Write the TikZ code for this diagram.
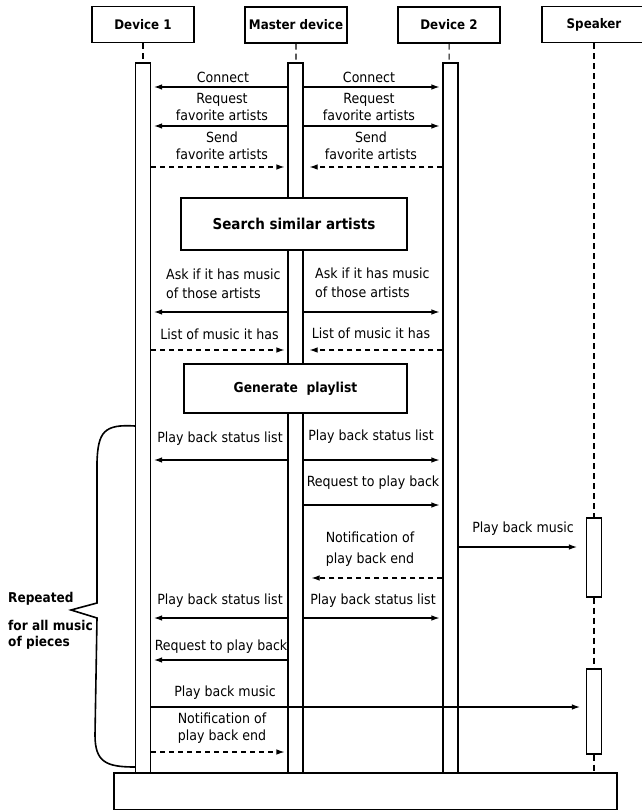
\documentclass[tikz,border=0pt]{standalone}
\usepackage{fontspec}
\setmainfont{DejaVu Sans}[FakeStretch = 0.9]
\usetikzlibrary{arrows.meta, positioning}
\tikzset{> = { Latex[length = 8pt, width = 5.5pt] }}

\begin{document}
\begin{tikzpicture}[x = 1pt, y = -1pt,
		head/.style = {draw, line width = 1.3pt, minimum width = 102pt, minimum height = 36pt, inner sep = 0pt, font = \bfseries\fontsize{13.2}{16}\selectfont},
		bar/.style = {draw, line width = 1.1pt, fill = white, minimum width = 15pt, inner sep = 0pt},
		task/.style = {draw, fill = white, line width = 1.8pt, inner sep = 0pt},
		msg/.style = {font = \fontsize{14}{17}\selectfont, align = center, inner sep = 0pt},
		note/.style = {font = \bfseries\fontsize{13.5}{16}\selectfont, inner sep = 0pt, anchor = west},
		life/.style = {line width = 1.1pt, dash pattern = on 6pt off 4pt},
		call/.style = {->, line width = 1.1pt, shorten > = 3pt},
		reply/.style = {call, dash pattern = on 5pt off 4pt}]
		\useasboundingbox (0, 0) rectangle (641, 810);

		% participants
		\node [head] (dev1) at (143, 24.5) {Device 1};
		\node [head] (master) at (296, 25) {Master device};
		\node [head] (dev2) at (449, 25) {Device 2};
		\node [head, minimum width = 104pt] (spk) at (594, 24.5) {Speaker};

		\node [bar, minimum height = 710pt] (bar1) at (143, 418) {};
		\node [bar, minimum height = 710pt] (bar2) at (295.5, 418) {};
		\node [bar, minimum height = 710pt] (bar3) at (450.5, 418) {};
		\node [bar, minimum height = 79pt] (act1) at (594, 557.5) {};
		\node [bar, minimum height = 85pt] (act2) at (594, 711.5) {};
		\node [task, fill = none, minimum width = 503pt, minimum height = 37pt] (base) at (365.5, 791.5) {};

		\draw [life] (dev1) -- (bar1);
		\draw [life] (master) -- (bar2);
		\draw [life] (dev2) -- (bar3);
		\draw [life] (spk) -- (act1);
		\draw [life] (act1) -- (act2);
		\draw [life] (act2) -- (act2 |- base.north);

		% work of the master device
		\node [task, minimum width = 226pt, minimum height = 52pt, font = \bfseries\fontsize{15}{18}\selectfont] (search) at (294, 224) {Search similar artists};
		\node [task, minimum width = 223pt, minimum height = 49pt, font = \bfseries\fontsize{13.7}{16}\selectfont] (playlist) at (295.5, 388.5) {Generate\ \ playlist};

		% message rows
		\coordinate (yconn) at (0, 87);
		\coordinate (yreq) at (0, 126);
		\coordinate (ysend) at (0, 167);
		\coordinate (yask) at (0, 312);
		\coordinate (ylist) at (0, 350);
		\coordinate (ystat) at (0, 460);
		\coordinate (yplay) at (0, 505);
		\coordinate (ymusic) at (0, 547);
		\coordinate (ydone) at (0, 578);
		\coordinate (ystatb) at (0, 618);
		\coordinate (yplayb) at (0, 660);
		\coordinate (ymusicb) at (0, 707);
		\coordinate (ydoneb) at (0, 752);

		\draw [call] (bar2.west |- yconn) -- (bar1.east |- yconn);
		\draw [call] (bar2.east |- yconn) -- (bar3.west |- yconn);
		\node [msg] (lconn1) at (223, 77) {Connect};
		\node [msg] (lconn2) at (369, 77) {Connect};

		\draw [call] (bar2.west |- yreq) -- (bar1.east |- yreq);
		\draw [call] (bar2.east |- yreq) -- (bar3.west |- yreq);
		\node [msg] (lreq1) at (222, 107) {Request\\favorite artists};
		\node [msg] (lreq2) at (369, 107) {Request\\favorite artists};

		\draw [reply] (bar1.east |- ysend) -- (bar2.west |- ysend);
		\draw [reply, shorten > = 6pt] (bar3.west |- ysend) -- (bar2.east |- ysend);
		\node [msg] (lsend1) at (222, 146) {Send\\favorite artists};
		\node [msg] (lsend2) at (371, 146) {Send\\favorite artists};

		\draw [call] (bar2.west |- yask) -- (bar1.east |- yask);
		\draw [call] (bar2.east |- yask) -- (bar3.west |- yask);
		\node [msg, align = left, anchor = west] (lask1) at (166, 283.5) {Ask if it has music\\[2pt]of those artists};
		\node [msg, align = left, anchor = west] (lask2) at (315, 282.5) {Ask if it has music\\[2pt]of those artists};

		\draw [reply] (bar1.east |- ylist) -- (bar2.west |- ylist);
		\draw [reply, shorten > = 6pt] (bar3.west |- ylist) -- (bar2.east |- ylist);
		\node [msg] (llist1) at (219.5, 334) {List of music it has};
		\node [msg] (llist2) at (371, 333) {List of music it has};

		\draw [call] (bar2.west |- ystat) -- (bar1.east |- ystat);
		\draw [call] (bar2.east |- ystat) -- (bar3.west |- ystat);
		\node [msg] (lstat1) at (220, 439) {Play back status list};
		\node [msg] (lstat2) at (371, 437) {Play back status list};

		\draw [call] (bar2.east |- yplay) -- (bar3.west |- yplay);
		\node [msg] (lplay1) at (373, 483) {Request to play back};

		\draw [call, shorten > = 9pt] (bar3.east |- ymusic) -- (act1.west |- ymusic);
		\node [msg] (lmusic1) at (523, 529) {Play back music};

		\draw [reply, shorten > = 8pt] (bar3.west |- ydone) -- (bar2.east |- ydone);
		\node [msg] (ldone1) at (370, 549) {Notification of\\[4pt]play back end};

		\draw [call] (bar2.west |- ystatb) -- (bar1.east |- ystatb);
		\draw [call] (bar2.east |- ystatb) -- (bar3.west |- ystatb);
		\node [msg] (lstat3) at (220, 601) {Play back status list};
		\node [msg] (lstat4) at (373, 601) {Play back status list};

		\draw [call] (bar2.west |- yplayb) -- (bar1.east |- yplayb);
		\node [msg] (lplay2) at (221, 647) {Request to play back};

		\draw [call, shorten > = 6pt] (bar1.east |- ymusicb) -- (act2.west |- ymusicb);
		\node [msg] (lmusic2) at (225, 693) {Play back music};

		\draw [reply] (bar1.east |- ydoneb) -- (bar2.west |- ydoneb);
		\node [msg] (ldone2) at (222, 728) {Notification of\\play back end};

		% repeated part
		\coordinate (ytop) at (0, 426);
		\coordinate (ybot) at (0, 767);
		\draw [line width = 1.6pt] (bar1.west |- ytop) .. controls (104, 424) and (98, 432) .. (97, 462) -- (97, 603) -- (71, 610) -- (97, 618) -- (95, 735) .. controls (95, 762) and (106, 767) .. (bar1.west |- ybot);
		\node [note] (rep1) at (8, 599) {Repeated};
		\node [note] (rep2) at (8, 625) {for all music};
		\node [note] (rep3) at (8, 643) {of pieces};
	\end{tikzpicture}
\end{document}
